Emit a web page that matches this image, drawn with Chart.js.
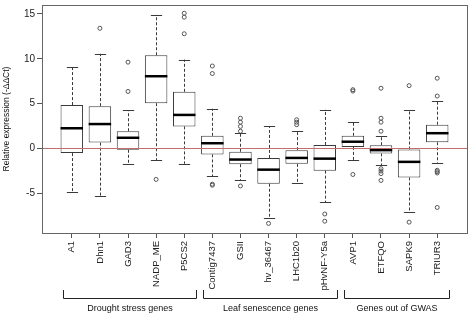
<!DOCTYPE html>
<html>
<head>
<meta charset="utf-8">
<script src="https://cdn.jsdelivr.net/npm/chart.js@4"></script>
<style>
  html, body { margin: 0; padding: 0; background: #fff; }
  #wrap { width: 472px; height: 315px; }
</style>
</head>
<body>
<div id="wrap"><canvas id="myChart" width="472" height="315"></canvas></div>
<script>
// data block
const genes = ['A1', 'Dhn1', 'GAD3', 'NADP_ME', 'P5CS2',
    'Contig7437', 'GSII', 'hv_36467', 'LHC1b20', 'pHvNF-Y5a',
    'AVP1', 'ETFQO', 'SAPK9', 'TRIUR3'];
const whiskerLow  = [-4.86, -5.29, -1.73, -1.33, -1.73, -3.11, -3.58, -7.73, -3.87, -6.02, -1.29, -1.88, -7.07, -1.62];
const q1          = [-0.53,  0.64, -0.16,  5.04,  2.45, -0.68, -1.77, -3.95, -1.73, -2.49,  0.16, -0.57, -3.25,  0.68];
const median      = [ 2.24,  2.71,  1.18,  8.05,  3.73,  0.57, -1.25, -2.38, -1.07, -1.15,  0.74, -0.20, -1.51,  1.69];
const q3          = [ 4.83,  4.71,  1.91, 10.39,  6.31,  1.40, -0.38, -1.07, -0.20,  0.38,  1.40,  0.35, -0.13,  2.64];
const whiskerHigh = [ 9.03, 10.56,  4.24, 14.90,  9.91,  4.42,  1.69,  2.45,  1.88,  4.31,  2.92,  1.40,  4.24,  5.26];
// outliers per gene
const outliers = [
    [],
    [13.4],
    [9.62, 6.35],
    [-3.47],
    [15.08, 14.64, 12.79],
    [9.19, 8.35, -4.0, -4.12],
    [3.36, 2.92, 2.45, 1.91, -4.2],
    [-8.38],
    [3.19, 2.92, 2.64],
    [-7.33, -8.13],
    [6.55, 6.4, -2.92],
    [6.71, 3.36, 2.92, 1.91, -2.27, -2.53, -2.82, -3.58],
    [7.0, -8.24],
    [7.83, 5.84, -2.45, -2.6, -2.75, -6.6]
];
const yTicks = [-5, 0, 5, 10, 15];
const groups = [
    { name: 'Drought stress genes', from: 1, to: 5 },
    { name: 'Leaf senescence genes', from: 6, to: 10 },
    { name: 'Genes out of GWAS', from: 11, to: 14 }
];

const FONT = '"Liberation Sans", Arial, sans-serif';
const INK = '#3a3a3a';

// boxes as floating bars, outliers as scatter points
const boxData = genes.map((g, i) => ({ x: i + 1, y: [q1[i], q3[i]] }));
const outlierData = [];
outliers.forEach((list, i) => list.forEach(v => outlierData.push({ x: i + 1, y: v })));

// whiskers, medians, zero line, frame
const boxParts = {
    id: 'boxParts',
    afterDatasetsDraw(chart) {
        const { ctx, chartArea, scales: { x, y } } = chart;
        const half = (x.getPixelForValue(1.4) - x.getPixelForValue(1));
        const cap = half / 2;
        ctx.save();
        ctx.lineWidth = 1;
        ctx.strokeStyle = INK;
        genes.forEach((g, i) => {
            const cx = Math.round(x.getPixelForValue(i + 1)) + 0.5;
            ctx.setLineDash([3, 2]);
            ctx.beginPath();
            ctx.moveTo(cx, y.getPixelForValue(q3[i]));
            ctx.lineTo(cx, y.getPixelForValue(whiskerHigh[i]));
            ctx.moveTo(cx, y.getPixelForValue(q1[i]));
            ctx.lineTo(cx, y.getPixelForValue(whiskerLow[i]));
            ctx.stroke();
            ctx.setLineDash([]);
            ctx.beginPath();
            const yh = Math.round(y.getPixelForValue(whiskerHigh[i])) + 0.5;
            const yl = Math.round(y.getPixelForValue(whiskerLow[i])) + 0.5;
            ctx.moveTo(cx - cap, yh); ctx.lineTo(cx + cap, yh);
            ctx.moveTo(cx - cap, yl); ctx.lineTo(cx + cap, yl);
            ctx.stroke();
        });
        // medians
        ctx.strokeStyle = '#000';
        ctx.lineWidth = 2.5;
        genes.forEach((g, i) => {
            const cx = x.getPixelForValue(i + 1);
            const ym = y.getPixelForValue(median[i]);
            ctx.beginPath();
            ctx.moveTo(cx - half, ym); ctx.lineTo(cx + half, ym);
            ctx.stroke();
        });
        // zero line
        ctx.strokeStyle = 'rgb(190,110,110)';
        ctx.lineWidth = 1;
        const y0 = Math.round(y.getPixelForValue(0)) + 0.5;
        ctx.beginPath();
        ctx.moveTo(chartArea.left, y0); ctx.lineTo(chartArea.right, y0);
        ctx.stroke();
        // frame
        ctx.strokeStyle = '#666';
        ctx.strokeRect(Math.round(chartArea.left) + 0.5, Math.round(chartArea.top) + 0.5,
            Math.round(chartArea.width), Math.round(chartArea.height));
        ctx.restore();
    },
    afterDraw(chart) {
        const { ctx, scales: { x } } = chart;
        ctx.save();
        ctx.strokeStyle = '#222';
        ctx.fillStyle = '#111';
        ctx.lineWidth = 1;
        ctx.font = '9px ' + FONT;
        ctx.textAlign = 'center';
        ctx.textBaseline = 'middle';
        groups.forEach(gr => {
            const x1 = Math.round(x.getPixelForValue(gr.from - 0.32)) + 0.5;
            const x2 = Math.round(x.getPixelForValue(gr.to + 0.42)) + 0.5;
            ctx.beginPath();
            ctx.moveTo(x1, 290); ctx.lineTo(x1, 298.5); ctx.lineTo(x2, 298.5); ctx.lineTo(x2, 290);
            ctx.stroke();
            ctx.fillText(gr.name, (x1 + x2) / 2, 308.5);
        });
        ctx.restore();
    }
};

// config block
const config = {
    type: 'bar',
    data: {
        datasets: [{
            type: 'bar',
            data: boxData,
            backgroundColor: '#fff',
            borderColor: INK,
            borderWidth: 1,
            borderSkipped: false,
            barPercentage: 1,
            categoryPercentage: 0.8,
            order: 2
        }, {
            type: 'scatter',
            data: outlierData,
            pointStyle: 'circle',
            pointRadius: 2,
            backgroundColor: 'rgba(0,0,0,0)',
            borderColor: '#555',
            borderWidth: 1,
            order: 1
        }]
    },
    options: {
        responsive: false,
        animation: false,
        layout: { padding: { top: 1, right: 4, left: 0, bottom: 0 } },
        plugins: {
            legend: { display: false },
            tooltip: { enabled: false }
        },
        scales: {
            x: {
                type: 'linear',
                offset: false,
                min: -0.06,
                max: 15.06,
                afterBuildTicks: (scale) => { scale.ticks = genes.map((g, i) => ({ value: i + 1 })); },
                afterFit: (scale) => { scale.height = 82; scale.paddingLeft = 0; scale.paddingRight = 0; },
                grid: { offset: false, drawOnChartArea: false, tickLength: 5, color: '#555' },
                border: { display: false },
                ticks: {
                    autoSkip: false,
                    minRotation: 90,
                    maxRotation: 90,
                    padding: 3,
                    color: '#222',
                    font: { family: FONT, size: 9.5 },
                    callback: (v) => genes[v - 1]
                }
            },
            y: {
                min: -9.45,
                max: 16,
                afterBuildTicks: (scale) => { scale.ticks = yTicks.map(v => ({ value: v })); },
                afterFit: (scale) => { scale.width = 42; scale.paddingTop = 0; scale.paddingBottom = 0; },
                grid: { drawOnChartArea: false, tickLength: 5, color: '#555' },
                border: { display: false },
                ticks: {
                    padding: 2,
                    color: '#222',
                    font: { family: FONT, size: 10 }
                },
                title: {
                    display: true,
                    text: 'Relative expression (-ΔΔCt)',
                    color: '#111',
                    font: { family: FONT, size: 8.5 },
                    padding: { top: 2, bottom: 0 }
                }
            }
        }
    },
    plugins: [boxParts]
};

// init render block
const myChart = new Chart(document.getElementById('myChart'), config);
</script>
</body>
</html>
